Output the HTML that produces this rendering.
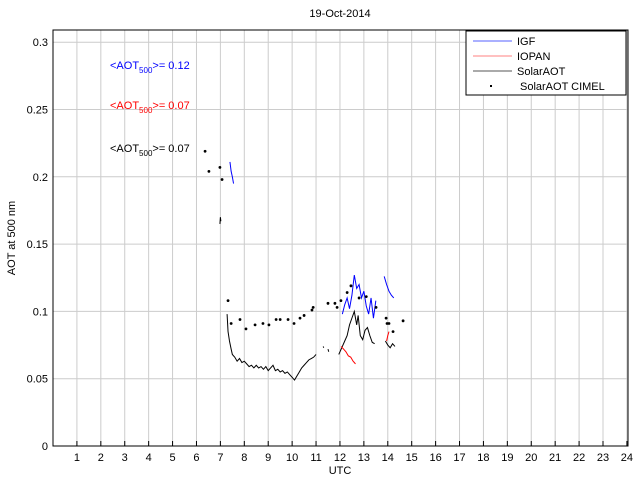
<!DOCTYPE html>
<html><head><meta charset="utf-8"><style>
body{margin:0;background:#fff;}
svg{display:block;font-family:"Liberation Sans",sans-serif;}
</style></head><body>
<svg id="chart" width="640" height="480">
<rect x="0" y="0" width="640" height="480" fill="#fff"/>
<rect x="53" y="30" width="575" height="416" fill="#fff"/>
<g id="grid"></g>
<g id="series"></g>
<rect x="53" y="30" width="575" height="416" fill="none" stroke="#000" stroke-width="1"/>
<g id="axes"></g>
<text x="340" y="17" font-size="11" text-anchor="middle">19-Oct-2014</text>
<text x="340" y="474" font-size="11" text-anchor="middle">UTC</text>
<text x="15" y="238" font-size="11" text-anchor="middle" transform="rotate(-90 15 238)">AOT at 500 nm</text>
<text x="110" y="69" font-size="11" fill="#00f">&lt;AOT<tspan font-size="8" dy="4">500</tspan><tspan dy="-4">&gt;= 0.12</tspan></text>
<text x="110" y="109" font-size="11" fill="#f00">&lt;AOT<tspan font-size="8" dy="4">500</tspan><tspan dy="-4">&gt;= 0.07</tspan></text>
<text x="110" y="152" font-size="11" fill="#000">&lt;AOT<tspan font-size="8" dy="4">500</tspan><tspan dy="-4">&gt;= 0.07</tspan></text>
<g>
<rect x="466" y="31" width="160" height="64" fill="#fff" stroke="#000"/>
<line x1="473" y1="41" x2="512" y2="41" stroke="#aab0ff" stroke-width="2"/>
<text x="517" y="45" font-size="11">IGF</text>
<line x1="473" y1="56" x2="512" y2="56" stroke="#ff8080" stroke-width="1"/>
<text x="517" y="60" font-size="11">IOPAN</text>
<line x1="473" y1="71" x2="512" y2="71" stroke="#aaa" stroke-width="2"/>
<text x="517" y="75" font-size="11">SolarAOT</text>
<rect x="490" y="85" width="2" height="2" fill="#000"/>
<text x="520" y="90" font-size="11">SolarAOT CIMEL</text>
</g>
</svg>
<script>
const xTicks=[1,2,3,4,5,6,7,8,9,10,11,12,13,14,15,16,17,18,19,20,21,22,23,24];
const yTicks=[0,0.05,0.1,0.15,0.2,0.25,0.3];
const yTickLabels=["0","0.05","0.1","0.15","0.2","0.25","0.3"];
const cimelT=[6.36,6.52,6.98,7.07,7.32,7.45,7.82,8.07,8.45,8.78,9.03,9.33,9.5,9.83,10.08,10.33,10.5,10.83,10.88,11.5,11.79,11.88,12.04,12.3,12.46,12.8,13.1,13.51,13.93,13.97,14.05,14.22,14.64];
const cimelV=[0.219,0.204,0.207,0.198,0.108,0.091,0.094,0.087,0.09,0.091,0.09,0.094,0.094,0.094,0.091,0.095,0.097,0.101,0.103,0.106,0.106,0.103,0.108,0.114,0.119,0.110,0.111,0.103,0.095,0.091,0.091,0.085,0.093];
const solarT=[[6.98,7.0,7.02],[7.28,7.32,7.38,7.45,7.5,7.6,7.7,7.8,7.9,8.0,8.1,8.2,8.3,8.4,8.5,8.6,8.7,8.8,8.9,9.0,9.1,9.2,9.3,9.4,9.5,9.6,9.7,9.8,9.9,10.0,10.1,10.2,10.3,10.4,10.5,10.6,10.7,10.8,10.9,11.0],[11.3,11.32],[11.5,11.53],[11.95,12.0,12.1,12.2,12.3,12.4,12.5,12.6,12.7,12.76,12.85,12.95,13.05,13.15,13.25,13.35,13.45],[13.9,14.0,14.1,14.2,14.3]];
const solarV=[[0.165,0.170,0.167],[0.098,0.085,0.078,0.072,0.068,0.066,0.063,0.065,0.062,0.063,0.061,0.059,0.060,0.058,0.060,0.058,0.059,0.057,0.059,0.056,0.058,0.060,0.056,0.057,0.055,0.056,0.054,0.055,0.053,0.051,0.049,0.052,0.055,0.058,0.060,0.062,0.064,0.065,0.066,0.068],[0.074,0.073],[0.072,0.070],[0.068,0.070,0.074,0.078,0.082,0.090,0.095,0.100,0.090,0.097,0.082,0.079,0.086,0.088,0.082,0.077,0.076],[0.078,0.075,0.073,0.076,0.074]];
const igfT=[[7.4,7.45,7.5,7.55],[12.1,12.2,12.3,12.4,12.5,12.6,12.7,12.8,12.9,13.0,13.1,13.2,13.3,13.4,13.5],[13.85,13.95,14.05,14.15,14.25]];
const igfV=[[0.211,0.204,0.200,0.195],[0.098,0.105,0.110,0.102,0.112,0.127,0.117,0.120,0.110,0.115,0.104,0.098,0.110,0.095,0.108],[0.126,0.120,0.115,0.112,0.110]];
const iopanT=[[12.05,12.15,12.25,12.35,12.45,12.55,12.65],[13.95,14.0,14.05]];
const iopanV=[[0.074,0.072,0.070,0.067,0.066,0.063,0.061],[0.078,0.082,0.085]];
const NS="http://www.w3.org/2000/svg";
const X=t=>53+t*(550/23);
const Y=v=>446-v*1346;
const grid=document.getElementById('grid'),axes=document.getElementById('axes'),ser=document.getElementById('series');
function mk(tag,attrs,parent){const e=document.createElementNS(NS,tag);for(const k in attrs)e.setAttribute(k,attrs[k]);parent.appendChild(e);return e;}
xTicks.forEach(t=>{
 const g=mk('line',{x1:X(t),x2:X(t),y1:30,y2:446,stroke:'#ccc'},grid);
 
 
 const tk=mk('line',{x1:X(t),x2:X(t),y1:446,y2:441,stroke:'#000'},axes);
 
 
 const l=mk('text',{x:X(t),y:461,'font-size':11,'text-anchor':'middle'},axes);
 l.textContent=t;
 
 
});
yTicks.forEach((v,i)=>{
 if(v>0){const g=mk('line',{x1:53,x2:628,y1:Y(v),y2:Y(v),stroke:'#ccc'},grid);
 
 }
 const l=mk('text',{x:48,y:Y(v)+4,'font-size':11,'text-anchor':'end'},axes);
 l.textContent=yTickLabels[i];
 
 
});
function lines(T,V,color,name){T.forEach((ts,j)=>{
 const p=mk('polyline',{points:ts.map((t,i)=>X(t)+','+Y(V[j][i])).join(' '),fill:'none',stroke:color,'stroke-width':1},ser);
 
 
});}
lines(solarT,solarV,'#000','solaraot-line');
lines(igfT,igfV,'#00f','igf-line');
lines(iopanT,iopanV,'#f00','iopan-line');
cimelT.forEach((t,i)=>{
 const c=mk('circle',{cx:X(t),cy:Y(cimelV[i]),r:1.4,fill:'#000'},ser);
 
 
});
</script>
</body></html>
